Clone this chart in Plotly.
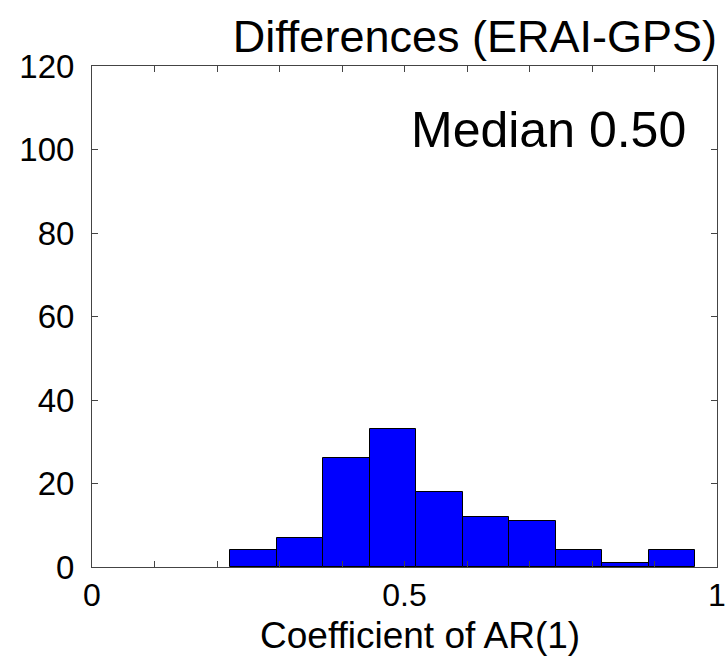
import numpy as np
import plotly.graph_objects as go

# Histogram of AR(1) coefficients of the ERAI-GPS differences (10 equal bins)
bin_min = 0.2208
bin_max = 0.9648
counts = [4, 7, 26, 33, 18, 12, 11, 4, 1, 4]
median_value = 0.50

x_tick_vals = [0, 0.1, 0.2, 0.3, 0.4, 0.5, 0.6, 0.7, 0.8, 0.9, 1.0]
x_tick_text = ["0", "", "", "", "", "0.5", "", "", "", "", "1"]
y_tick_vals = [0, 20, 40, 60, 80, 100, 120]

edges = np.linspace(bin_min, bin_max, len(counts) + 1)
centers = (edges[:-1] + edges[1:]) / 2
widths = np.diff(edges)

FONT = "Arial, Liberation Sans, Helvetica, sans-serif"
AXIS = "#444444"

fig = go.Figure(
    go.Bar(
        x=centers,
        y=counts,
        width=widths,
        marker=dict(color="#0000FF", line=dict(color="#000000", width=1)),
        showlegend=False,
    )
)

fig.update_layout(
    width=727,
    height=658,
    margin=dict(l=92, r=10, t=66, b=91, autoexpand=False),
    paper_bgcolor="white",
    plot_bgcolor="white",
    font=dict(family=FONT, color="black"),
    title=dict(
        text="Differences (ERAI-GPS)",
        font=dict(size=45, family=FONT, color="black"),
        xref="paper", x=1.0, xanchor="right",
        yref="container", y=1 - 36 / 658, yanchor="middle",
    ),
    bargap=0,
)

fig.update_xaxes(
    range=[0, 1],
    tickvals=x_tick_vals,
    ticktext=x_tick_text,
    ticks="inside",
    ticklen=6,
    tickcolor=AXIS,
    showline=True,
    linecolor=AXIS,
    linewidth=1,
    mirror="ticks",
    showgrid=False,
    zeroline=False,
    automargin=False,
    tickfont=dict(size=32, family=FONT, color="black"),
    ticklabelstandoff=0,
)

fig.update_yaxes(
    range=[0, 120],
    tickvals=y_tick_vals,
    ticks="inside",
    ticklen=6,
    tickcolor=AXIS,
    showline=True,
    linecolor=AXIS,
    linewidth=1,
    mirror="ticks",
    showgrid=False,
    zeroline=False,
    automargin=False,
    tickfont=dict(size=33, family=FONT, color="black"),
    ticklabelstandoff=10,
)

# x-axis title, placed just under the tick labels
fig.add_annotation(
    text="Coefficient of AR(1)",
    xref="paper", yref="paper",
    x=0.525, y=-0.136,
    xanchor="center", yanchor="middle",
    showarrow=False,
    font=dict(size=37, family=FONT, color="black"),
)

fig.add_annotation(
    text=f"Median {median_value:.2f}",
    xref="paper", yref="paper",
    x=0.954, y=0.872,
    xanchor="right", yanchor="middle",
    showarrow=False,
    font=dict(size=50, family=FONT, color="black"),
)

fig.write_html("out.html")
